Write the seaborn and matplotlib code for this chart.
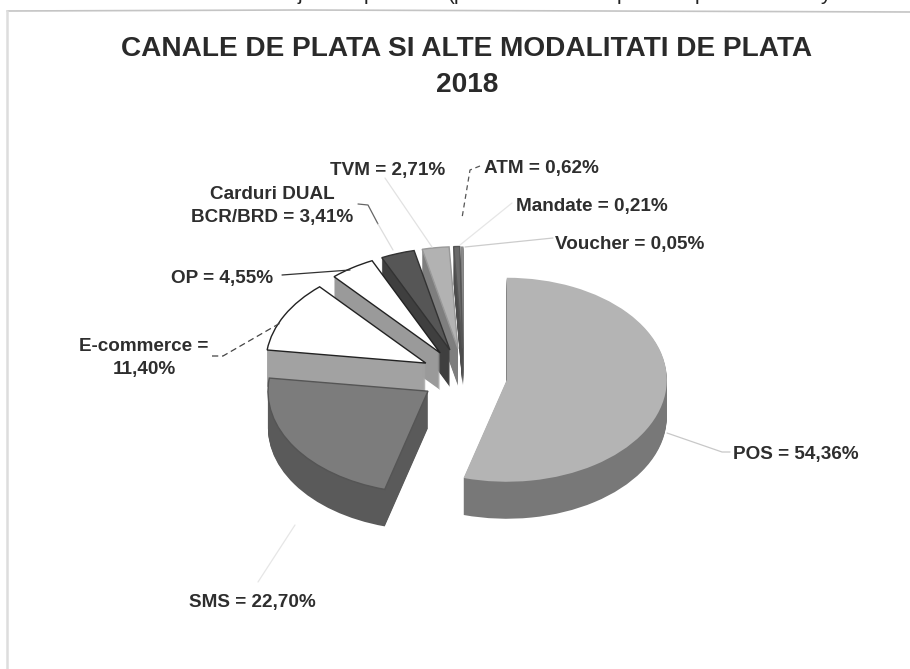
import numpy as np
import matplotlib
matplotlib.use("Agg")
import matplotlib.pyplot as plt
import seaborn as sns

# --- data ---
channels = ["POS", "SMS", "E-commerce", "OP", "Carduri DUAL BCR/BRD", "TVM", "ATM", "Mandate", "Voucher"]
shares = [54.36, 22.70, 11.40, 4.55, 3.41, 2.71, 0.62, 0.21, 0.05]
top_colors = ["#b4b4b4", "#7c7c7c", "#ffffff", "#ffffff", "#565656", "#b2b2b2", "#6a6a6a", "#8a8a8a", "#999999"]
side_colors = ["#787878", "#5a5a5a", "#a2a2a2", "#9a9a9a", "#3f3f3f", "#7e7e7e", "#4c4c4c", "#666666", "#777777"]
top_edges = ["none", "#555555", "#222222", "#222222", "#333333", "#999999", "#555555", "none", "none"]

title_lines = ["CANALE DE PLATA SI ALTE MODALITATI DE PLATA", "2018"]
label_texts = ["POS = 54,36%", "SMS = 22,70%", "E-commerce =\n11,40%", "OP = 4,55%",
               "Carduri DUAL\nBCR/BRD = 3,41%", "TVM = 2,71%", "ATM = 0,62%",
               "Mandate = 0,21%", "Voucher = 0,05%"]
# only the descenders of the line above the chart are left in the scan
cropped_glyphs = ["j", "p", "(p", "p", "p", "y"]

# --- layout, in pixels of the 910x669 picture ---
CX, CY = 464, 376
RX, RY = 160, 102
DEPTH = 37
EXPLODE = 0.27

sns.set_theme(style="white")
plt.rcParams["font.family"] = ["Liberation Sans", "DejaVu Sans"]

fig = plt.figure(figsize=(9.10, 6.69), dpi=100, facecolor="white")
ax = fig.add_axes([0, 0, 1, 1])
explode = [EXPLODE] * len(shares)

# side walls: the same pie stacked from the bottom up
for d in np.arange(DEPTH, 0, -1):
    wedges, _ = ax.pie(shares, colors=side_colors, explode=explode, startangle=90,
                       counterclock=False, center=(0, -d / RY), normalize=True,
                       wedgeprops={"linewidth": 0})

# top faces
wedges, _ = ax.pie(shares, colors=top_colors, explode=explode, startangle=90,
                   counterclock=False, normalize=True)
for w, ec in zip(wedges, top_edges):
    w.set_edgecolor(ec)
    w.set_linewidth(0 if ec == "none" else 1.0)

ax.set_aspect("auto")
ax.set_xlim(-CX / RX, (910 - CX) / RX)
ax.set_ylim((CY - 669) / RY, CY / RY)
ax.axis("off")

# overlay in pixel coordinates for text, leader lines and the scan frame
over = fig.add_axes([0, 0, 1, 1], facecolor="none")
over.set_xlim(0, 910)
over.set_ylim(669, 0)
over.axis("off")

over.plot([7, 300, 910], [11, 10, 12], color="#c4c4c4", lw=1.2)
over.plot([7, 7], [11, 669], color="#dddddd", lw=1.8)

glyph_x = [300, 369, 457, 622, 700, 825]
for g, x in zip(cropped_glyphs, glyph_x):
    over.text(x, 0, g, ha="center", va="baseline", fontsize=15, color="#222222", clip_on=False)

over.text(467, 49, title_lines[0], ha="center", va="center", fontsize=20.2, fontweight="bold", color="#2a2a2a")
over.text(467, 85, title_lines[1], ha="center", va="center", fontsize=20.2, fontweight="bold", color="#2a2a2a")

label_pos = [(796, 454), (252, 603), (144, 358), (222, 279), (272, 206),
             (388, 171), (541, 169), (592, 207), (630, 244)]
for txt, (x, y) in zip(label_texts, label_pos):
    over.text(x, y, txt, ha="center", va="center", fontsize=13.6, fontweight="bold",
              color="#2e2e2e", linespacing=1.42)

leaders = [
    ([667, 722, 730], [433, 452, 452], "#c8c8c8", "-"),
    ([295, 258], [525, 582], "#e6e6e6", "-"),
    ([212, 223, 282], [356, 356, 322], "#444444", (0, (5, 3))),
    ([282, 350], [275, 270], "#333333", "-"),
    ([358, 368, 378], [204, 205, 224], "#666666", "-"),
    ([378, 393], [224, 250], "#dddddd", "-"),
    ([385, 432], [178, 247], "#e2e2e2", "-"),
    ([480, 470, 462], [166, 170, 218], "#555555", (0, (4, 3))),
    ([512, 460], [203, 245], "#e6e6e6", "-"),
    ([553, 465], [238, 247], "#cccccc", "-"),
]
for xs, ys, c, ls in leaders:
    over.plot(xs, ys, color=c, lw=0.9, ls=ls)

fig.savefig("out.png", dpi=100)
